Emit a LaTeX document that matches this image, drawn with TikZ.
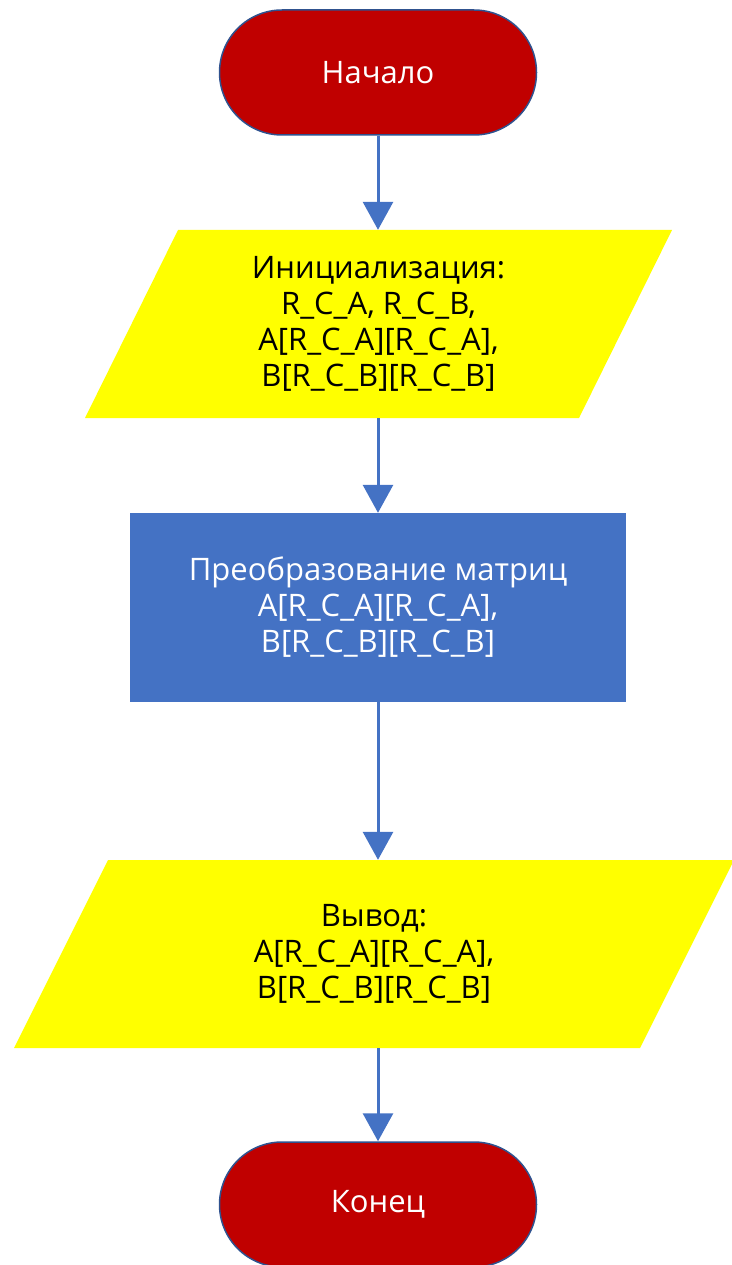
\documentclass[tikz,border=0pt]{standalone}
\usepackage{fontspec}
\setmainfont{Open Sans}
\usetikzlibrary{arrows.meta}
\definecolor{termred}{HTML}{C00000}
\definecolor{termedge}{HTML}{2F528F}
\definecolor{procblue}{HTML}{4472C4}
\definecolor{ioyellow}{HTML}{FFFF00}

\begin{document}
\begin{tikzpicture}[x=1pt,y=-1pt,
  every node/.style={font=\fontsize{31}{36}\selectfont, align=center, inner sep=0pt},
  term/.style={draw=termedge, line width=1.5pt, fill=termred, text=white,
    minimum width=317pt, minimum height=125pt, rounded corners=62.5pt},
  proc/.style={fill=procblue, text=white, minimum width=496pt, minimum height=189pt},
  io/.style 2 args={minimum width=#1, minimum height=188pt,
    path picture={\fill[ioyellow] (path picture bounding box.south west)
      -- ([xshift=#2]path picture bounding box.north west)
      -- (path picture bounding box.north east)
      -- ([xshift=-#2]path picture bounding box.south east) -- cycle;}},
  flow/.style={draw=procblue, line width=3pt, -{Triangle[width=30pt,length=28pt]}}
]
\useasboundingbox (0,0) rectangle (731,1265);

\node[term] (start) at (378,72.5) {Начало};
\node[io={587pt}{93pt}] (init) at (378.5,324)
  {Инициализация:\\R\_C\_A, R\_C\_B,\\A[R\_C\_A][R\_C\_A],\\B[R\_C\_B][R\_C\_B]};
\node[proc] (conv) at (378,607.5)
  {Преобразование матриц\\A[R\_C\_A][R\_C\_A],\\B[R\_C\_B][R\_C\_B]};
\node[io={720pt}{94pt}] (out) at (374,954)
  {Вывод:\\A[R\_C\_A][R\_C\_A],\\B[R\_C\_B][R\_C\_B]};
\node[term] (stop) at (378,1204.5) {Конец};

\draw[flow] (start.south) -- (start.south |- init.north);
\draw[flow] (conv.north |- init.south) -- (conv.north);
\draw[flow] (conv.south) -- (conv.south |- out.north);
\draw[flow] (stop.north |- out.south) -- (stop.north);
\end{tikzpicture}
\end{document}
